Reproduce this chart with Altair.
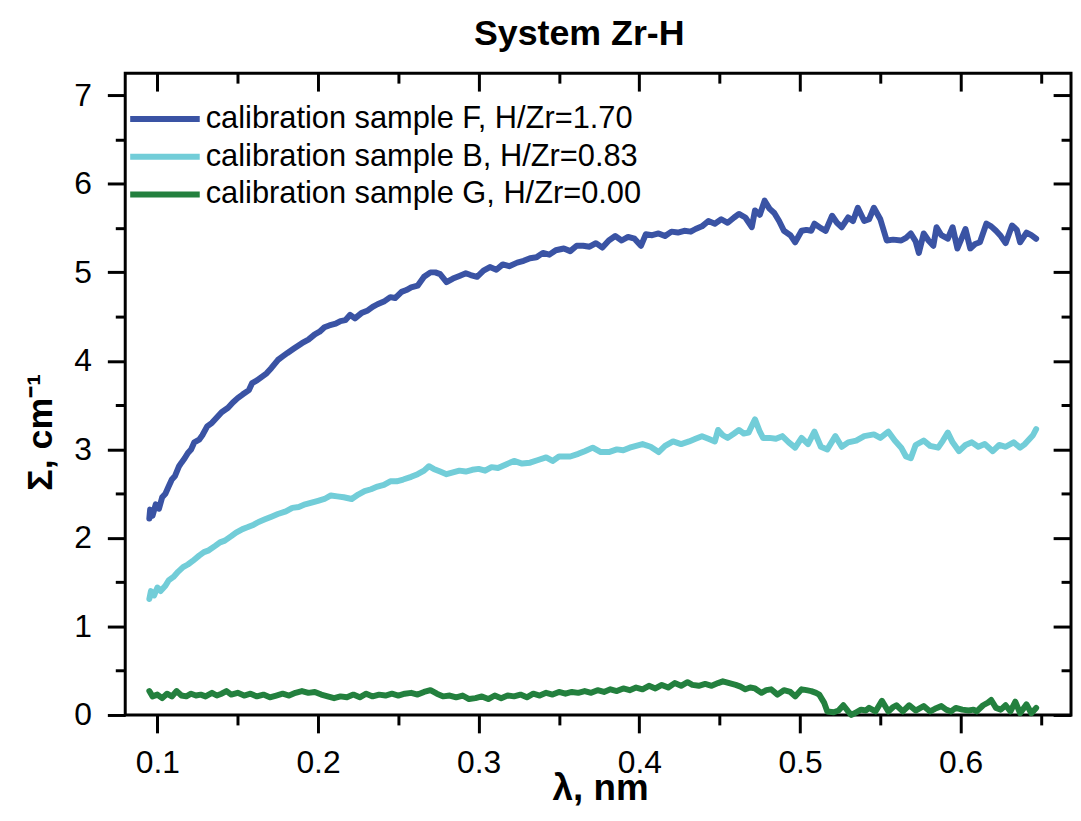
import altair as alt
import pandas as pd

SERIES = [
    "calibration sample F, H/Zr=1.70",
    "calibration sample B, H/Zr=0.83",
    "calibration sample G, H/Zr=0.00",
]
COLORS = ["#3a53a4", "#72cdd8", "#23803e"]

F_X = [0.095, 0.0955, 0.097, 0.099, 0.101, 0.103, 0.105, 0.107, 0.109, 0.111, 0.1135, 0.115, 0.117, 0.119,
       0.121, 0.123, 0.126, 0.128, 0.131, 0.134, 0.137, 0.140, 0.144, 0.147, 0.150, 0.153, 0.157, 0.159,
       0.162, 0.165, 0.168, 0.171, 0.175, 0.178, 0.181, 0.185, 0.190, 0.194, 0.198, 0.201, 0.204, 0.207,
       0.211, 0.214, 0.217, 0.220, 0.223, 0.227, 0.231, 0.234, 0.237, 0.241, 0.245, 0.248, 0.252, 0.255,
       0.258, 0.262, 0.266, 0.270, 0.273, 0.276, 0.280, 0.284, 0.288, 0.292, 0.295, 0.299, 0.303, 0.307,
       0.311, 0.315, 0.319, 0.324, 0.328, 0.332, 0.336, 0.340, 0.344, 0.348, 0.353, 0.357, 0.361, 0.365,
       0.369, 0.373, 0.377, 0.381, 0.385, 0.389, 0.393, 0.397, 0.401, 0.404, 0.408, 0.412, 0.416, 0.420,
       0.424, 0.428, 0.432, 0.435, 0.439, 0.443, 0.447, 0.451, 0.455, 0.459, 0.462, 0.466, 0.470, 0.472,
       0.475, 0.478, 0.481, 0.484, 0.487, 0.490, 0.494, 0.497, 0.501, 0.504, 0.507, 0.509, 0.513, 0.516,
       0.520, 0.523, 0.526, 0.530, 0.533, 0.536, 0.540, 0.543, 0.546, 0.550, 0.554, 0.558, 0.563, 0.566,
       0.569, 0.572, 0.574, 0.577, 0.580, 0.583, 0.585, 0.588, 0.592, 0.595, 0.598, 0.601, 0.603, 0.606,
       0.609, 0.612, 0.616, 0.619, 0.622, 0.625, 0.628, 0.632, 0.635, 0.637, 0.641, 0.644, 0.647]
F_Y = [2.22, 2.32, 2.25, 2.38, 2.33, 2.46, 2.50, 2.58, 2.66, 2.70, 2.81, 2.85, 2.90, 2.96,
       3.00, 3.08, 3.11, 3.16, 3.26, 3.30, 3.36, 3.42, 3.47, 3.53, 3.58, 3.62, 3.67, 3.75,
       3.78, 3.82, 3.86, 3.92, 4.01, 4.05, 4.09, 4.14, 4.20, 4.24, 4.30, 4.33, 4.38, 4.40,
       4.42, 4.45, 4.46, 4.52, 4.48, 4.54, 4.57, 4.61, 4.64, 4.67, 4.72, 4.71, 4.78, 4.80,
       4.83, 4.85, 4.95, 5.00, 5.00, 4.98, 4.89, 4.93, 4.96, 4.99, 4.97, 4.95, 5.02, 5.06,
       5.03, 5.09, 5.07, 5.11, 5.13, 5.16, 5.17, 5.22, 5.20, 5.25, 5.27, 5.24, 5.30, 5.30,
       5.29, 5.33, 5.28, 5.36, 5.41, 5.36, 5.40, 5.38, 5.30, 5.43, 5.42, 5.44, 5.41, 5.46,
       5.45, 5.47, 5.46, 5.49, 5.52, 5.58, 5.55, 5.60, 5.56, 5.62, 5.66, 5.62, 5.51, 5.70,
       5.65, 5.81, 5.72, 5.67, 5.58, 5.47, 5.42, 5.34, 5.47, 5.48, 5.47, 5.55, 5.50, 5.47,
       5.64, 5.56, 5.51, 5.62, 5.58, 5.73, 5.58, 5.60, 5.73, 5.60, 5.36, 5.37, 5.36, 5.39,
       5.44, 5.35, 5.22, 5.44, 5.36, 5.30, 5.51, 5.42, 5.38, 5.51, 5.27, 5.40, 5.49, 5.27,
       5.32, 5.34, 5.55, 5.52, 5.47, 5.41, 5.33, 5.53, 5.48, 5.34, 5.45, 5.42, 5.38]

B_X = [0.095, 0.096, 0.098, 0.100, 0.102, 0.105, 0.107, 0.110, 0.113, 0.116, 0.119, 0.122, 0.126, 0.129,
       0.132, 0.136, 0.139, 0.142, 0.146, 0.149, 0.153, 0.156, 0.160, 0.163, 0.167, 0.171, 0.175, 0.180,
       0.184, 0.188, 0.192, 0.196, 0.200, 0.204, 0.208, 0.212, 0.216, 0.221, 0.225, 0.229, 0.233, 0.237,
       0.241, 0.245, 0.249, 0.253, 0.258, 0.262, 0.266, 0.269, 0.272, 0.276, 0.280, 0.284, 0.288, 0.292,
       0.296, 0.300, 0.304, 0.308, 0.312, 0.317, 0.322, 0.327, 0.332, 0.337, 0.342, 0.346, 0.350, 0.357,
       0.362, 0.366, 0.371, 0.376, 0.381, 0.386, 0.390, 0.394, 0.398, 0.402, 0.407, 0.412, 0.416, 0.421,
       0.426, 0.431, 0.435, 0.439, 0.443, 0.447, 0.449, 0.452, 0.455, 0.459, 0.462, 0.465, 0.468, 0.472,
       0.475, 0.477, 0.481, 0.485, 0.489, 0.493, 0.497, 0.501, 0.505, 0.509, 0.513, 0.517, 0.522, 0.526,
       0.530, 0.535, 0.540, 0.546, 0.550, 0.555, 0.559, 0.563, 0.566, 0.569, 0.572, 0.577, 0.581, 0.586,
       0.589, 0.592, 0.595, 0.599, 0.603, 0.607, 0.611, 0.615, 0.620, 0.624, 0.628, 0.633, 0.637, 0.640,
       0.642, 0.645, 0.647]
B_Y = [1.31, 1.40, 1.35, 1.44, 1.40, 1.46, 1.52, 1.56, 1.62, 1.67, 1.70, 1.74, 1.80, 1.84,
       1.86, 1.91, 1.95, 1.97, 2.02, 2.06, 2.10, 2.12, 2.15, 2.18, 2.21, 2.24, 2.27, 2.30,
       2.34, 2.35, 2.38, 2.40, 2.42, 2.44, 2.48, 2.47, 2.46, 2.44, 2.49, 2.53, 2.55, 2.58,
       2.60, 2.64, 2.64, 2.66, 2.69, 2.72, 2.76, 2.81, 2.78, 2.75, 2.72, 2.74, 2.76, 2.75,
       2.77, 2.78, 2.76, 2.80, 2.79, 2.83, 2.87, 2.84, 2.85, 2.88, 2.91, 2.87, 2.92, 2.92,
       2.95, 2.98, 3.02, 2.97, 2.97, 3.00, 2.99, 3.02, 3.04, 3.06, 3.03, 2.97, 3.04, 3.09,
       3.06, 3.09, 3.12, 3.15, 3.12, 3.09, 3.22, 3.16, 3.13, 3.18, 3.22, 3.18, 3.19, 3.34,
       3.20, 3.13, 3.13, 3.12, 3.15, 3.08, 3.02, 3.13, 3.06, 3.20, 3.03, 3.00, 3.15, 3.03,
       3.08, 3.10, 3.15, 3.17, 3.13, 3.20, 3.10, 3.02, 2.92, 2.90, 3.05, 3.10, 3.04, 3.02,
       3.10, 3.19, 3.08, 2.98, 3.05, 3.08, 3.03, 3.06, 2.98, 3.05, 3.03, 3.08, 3.02, 3.06,
       3.10, 3.16, 3.23]

G_X = [0.095, 0.097, 0.100, 0.103, 0.106, 0.109, 0.112, 0.115, 0.118, 0.121, 0.124, 0.127, 0.130, 0.134,
       0.137, 0.140, 0.143, 0.146, 0.150, 0.154, 0.158, 0.162, 0.166, 0.170, 0.174, 0.178, 0.182, 0.186,
       0.190, 0.194, 0.198, 0.202, 0.206, 0.210, 0.214, 0.218, 0.222, 0.226, 0.230, 0.234, 0.238, 0.242,
       0.246, 0.250, 0.254, 0.258, 0.262, 0.266, 0.270, 0.274, 0.278, 0.282, 0.286, 0.290, 0.294, 0.298,
       0.302, 0.306, 0.310, 0.314, 0.318, 0.322, 0.326, 0.330, 0.334, 0.338, 0.342, 0.346, 0.350, 0.354,
       0.358, 0.362, 0.366, 0.370, 0.374, 0.378, 0.382, 0.386, 0.390, 0.394, 0.398, 0.402, 0.406, 0.410,
       0.414, 0.418, 0.422, 0.426, 0.430, 0.433, 0.437, 0.441, 0.445, 0.449, 0.452, 0.456, 0.460, 0.463,
       0.466, 0.469, 0.472, 0.476, 0.479, 0.482, 0.486, 0.490, 0.494, 0.497, 0.501, 0.504, 0.507, 0.510,
       0.512, 0.515, 0.517, 0.521, 0.524, 0.527, 0.530, 0.532, 0.535, 0.538, 0.541, 0.543, 0.547, 0.551,
       0.555, 0.558, 0.560, 0.564, 0.568, 0.572, 0.575, 0.577, 0.581, 0.584, 0.588, 0.591, 0.594, 0.597,
       0.601, 0.605, 0.608, 0.610, 0.614, 0.617, 0.619, 0.622, 0.625, 0.628, 0.631, 0.634, 0.637, 0.641,
       0.644, 0.647]
G_Y = [0.27, 0.21, 0.23, 0.19, 0.24, 0.21, 0.27, 0.22, 0.21, 0.24, 0.22, 0.23, 0.21, 0.25,
       0.22, 0.24, 0.27, 0.23, 0.25, 0.22, 0.24, 0.21, 0.23, 0.20, 0.22, 0.24, 0.22, 0.25,
       0.27, 0.25, 0.26, 0.23, 0.21, 0.19, 0.21, 0.20, 0.23, 0.20, 0.24, 0.21, 0.23, 0.22,
       0.24, 0.22, 0.24, 0.25, 0.23, 0.26, 0.28, 0.24, 0.21, 0.22, 0.20, 0.22, 0.18, 0.19,
       0.21, 0.18, 0.22, 0.19, 0.22, 0.21, 0.23, 0.20, 0.24, 0.22, 0.25, 0.23, 0.26, 0.24,
       0.26, 0.25, 0.27, 0.25, 0.28, 0.26, 0.29, 0.27, 0.30, 0.28, 0.31, 0.29, 0.33, 0.30,
       0.34, 0.31, 0.36, 0.33, 0.37, 0.34, 0.33, 0.35, 0.33, 0.36, 0.38, 0.36, 0.34, 0.32,
       0.29, 0.31, 0.30, 0.25, 0.28, 0.29, 0.23, 0.28, 0.26, 0.21, 0.29, 0.28, 0.27, 0.25,
       0.23, 0.14, 0.04, 0.03, 0.05, 0.11, 0.04, 0.00, 0.03, 0.06, 0.05, 0.08, 0.04, 0.16,
       0.04, 0.09, 0.11, 0.04, 0.11, 0.05, 0.08, 0.10, 0.04, 0.07, 0.10, 0.06, 0.04, 0.08,
       0.06, 0.05, 0.06, 0.04, 0.11, 0.14, 0.17, 0.08, 0.06, 0.11, 0.04, 0.15, 0.02, 0.12,
       0.02, 0.08]

X_MAJOR = [0.1, 0.2, 0.3, 0.4, 0.5, 0.6]
X_MINOR = [0.15, 0.25, 0.35, 0.45, 0.55, 0.65]
Y_MAJOR = [0, 1, 2, 3, 4, 5, 6, 7]
Y_MINOR = [0.5, 1.5, 2.5, 3.5, 4.5, 5.5, 6.5]

rows = []
for name, xs, ys in zip(SERIES, [F_X, B_X, G_X], [F_Y, B_Y, G_Y]):
    for x, y in zip(xs, ys):
        rows.append({"series": name, "lam": x, "sigma": y})
df = pd.DataFrame(rows)

FONT = "Liberation Sans"
xscale = alt.Scale(domain=[0.08, 0.6687], nice=False, zero=False)
yscale = alt.Scale(domain=[0, 7.25], nice=False, zero=False)


def tick_axis(values, orient, size, offset=0):
    return alt.Axis(values=values, orient=orient, tickSize=size, tickWidth=3, tickColor="black",
                    offset=offset, labels=False, domain=False, grid=False, title=None)


base = alt.Chart(df)

lines = base.mark_line(strokeWidth=6, strokeCap="round", strokeJoin="round").encode(
    x=alt.X("lam:Q", scale=xscale, axis=alt.Axis(
        values=X_MAJOR, orient="bottom", tickSize=18, tickWidth=3, tickColor="black",
        domain=False, grid=False, format=".1f", labelFont=FONT, labelFontSize=32,
        labelColor="black", labelPadding=15, labelOverlap=False, labelFlush=False,
        title="λ, nm", titleFont=FONT, titleFontSize=37, titleFontWeight="bold",
        titleColor="black", titleBaseline="alphabetic", titleY=85, titleX=478,
        titleAlign="center")),
    y=alt.Y("sigma:Q", scale=yscale, axis=alt.Axis(
        values=Y_MAJOR, orient="left", tickSize=18, tickWidth=3, tickColor="black",
        domain=False, grid=False, format="d", labelFont=FONT, labelFontSize=32,
        labelColor="black", labelPadding=16, labelOverlap=False, labelFlush=False,
        title="Σ, cm⁻¹", titleFont=FONT, titleFontSize=36, titleFontWeight="bold",
        titleColor="black", titleBaseline="alphabetic", titleX=-74, titleY=361,
        titleAlign="center")),
    color=alt.Color("series:N", sort=SERIES,
                    scale=alt.Scale(domain=SERIES, range=COLORS),
                    legend=alt.Legend(orient="none", legendX=23, legendY=29, title=None,
                                      symbolType="M-2.5,0H2.5", symbolSize=784,
                                      symbolStrokeWidth=6, labelFont=FONT,
                                      labelFontSize=31, labelColor="black",
                                      labelOffset=24, rowPadding=6, padding=0,
                                      labelLimit=800)),
)

ghost = base.mark_line(opacity=0)

minor = ghost.encode(
    x=alt.X("lam:Q", scale=xscale, axis=tick_axis(X_MINOR, "bottom", 10)),
    y=alt.Y("sigma:Q", scale=yscale, axis=tick_axis(Y_MINOR, "left", 10)),
    detail="series:N",
)
top_major = ghost.encode(
    x=alt.X("lam:Q", scale=xscale, axis=tick_axis(X_MAJOR, "top", 18, -18)),
    y=alt.Y("sigma:Q", scale=yscale, axis=tick_axis(Y_MAJOR, "right", 18, -18)),
    detail="series:N",
)
top_minor = ghost.encode(
    x=alt.X("lam:Q", scale=xscale, axis=tick_axis(X_MINOR, "top", 10, -10)),
    y=alt.Y("sigma:Q", scale=yscale, axis=tick_axis(Y_MINOR, "right", 10, -10)),
    detail="series:N",
)

chart = alt.layer(lines, minor, top_major, top_minor).resolve_axis(
    x="independent", y="independent"
).properties(
    width=952, height=646,
    padding={"left": 118, "top": 63, "right": 2, "bottom": 90},
    autosize=alt.AutoSizeParams(type="none"),
    title=alt.Title("System Zr-H", font=FONT, fontSize=36, fontWeight="bold", color="black",
                    anchor="middle", frame="group", dx=-19, dy=40, offset=31,
                    baseline="alphabetic"),
).configure_view(stroke="black", strokeWidth=3)

chart.save("out.html", embed_options={"renderer": "svg", "actions": False})
